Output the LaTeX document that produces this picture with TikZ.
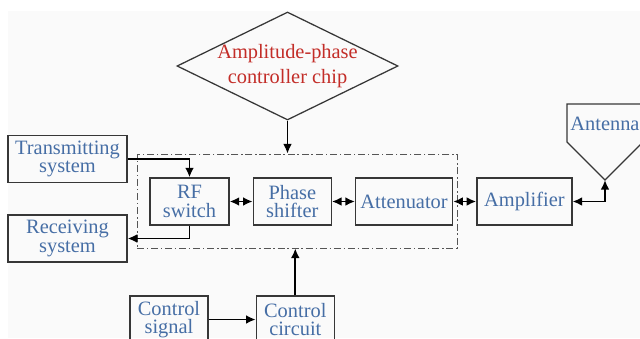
\documentclass[tikz,border=0pt]{standalone}
\usepackage{fontspec}
\setmainfont{Liberation Serif}
\usepackage{tikz}
\usetikzlibrary{shapes.geometric, arrows.meta, positioning}
\definecolor{labelblue}{RGB}{70,110,165}
\definecolor{chipred}{RGB}{195,45,40}
\definecolor{boxline}{RGB}{55,55,55}
\definecolor{panel}{RGB}{250,250,250}

\begin{document}
\begin{tikzpicture}[x=0.025cm, y=-0.025cm,
    block/.style={rectangle, draw=boxline, line width=0.9pt, minimum height=1.175cm, inner sep=1pt, align=center, text=labelblue, font=\fontsize{14.5}{13.2}\selectfont},
    chip/.style={diamond, draw=boxline, line width=0.9pt, shape aspect=2.05, minimum width=5.525cm, minimum height=2.7cm, inner sep=-8pt, align=center, text=chipred, font=\fontsize{14.5}{17.5}\selectfont},
    module/.style={rectangle, draw=boxline!85, line width=0.6pt, dash pattern=on 5pt off 2pt on 1pt off 2pt, minimum width=8cm, minimum height=2.35cm},
    arrow/.style={-{Latex[length=2.4mm, width=2.2mm]}, line width=1.3pt},
    both/.style={{Latex[length=2.4mm, width=2.2mm]}-{Latex[length=2.4mm, width=2.2mm]}, line width=1.3pt},
    node distance=0.575cm
]
    \path[use as bounding box, clip] (0,0) rectangle (640,338);
    \fill[panel] (8,11) rectangle (640,338);

    % Components
    \node[chip] (apc) at (287.5,66) {Amplitude-phase\\controller chip};
    \node[module] (afc) at (297,201) {};
    \node[block, minimum width=1.975cm] (rfsw) at (189.5,201.5) {RF\\switch};
    \node[block, minimum width=1.95cm, right=of rfsw] (shifter) {Phase\\shifter};
    \node[block, minimum width=2.425cm, right=of shifter] (atten) {Attenuator};
    \node[block, minimum width=2.375cm, right=of atten] (amp) {Amplifier};
    \node[block, minimum width=2.975cm] (trans) at (67.5,159) {Transmitting\\system};
    \node[block, minimum width=2.975cm] (recv) at (67.5,238.5) {Receiving\\system};
    \node[block, minimum width=1.95cm] (csig) at (169,319.5) {Control\\signal};
    \node[block, minimum width=1.95cm, right=1.175cm of csig] (ccir) {Control\\circuit};

    % Antenna
    \node[text=labelblue, font=\fontsize{14.5}{13.2}\selectfont] (ant) at (605,124) {Antenna};
    \coordinate (feed) at (605,180);
    \draw[boxline, line width=0.9pt] (567,104) -- (567,142) -- (feed) -- (643,142) -- (643,104) -- cycle;

    % Arrows
    \draw[arrow] (apc.south) -- (apc.south |- afc.north);
    \draw[arrow] (trans.east) -| (rfsw.north);
    \draw[arrow] (rfsw.south) |- (recv.east);
    \draw[both] (rfsw) -- (shifter);
    \draw[both] (shifter) -- (atten);
    \draw[both] (atten) -- (amp);
    \draw[both] (amp.east) -| (feed);
    \draw[arrow] (csig) -- (ccir);
    \draw[arrow] (ccir.north) -- (ccir.north |- afc.south);
\end{tikzpicture}
\end{document}
